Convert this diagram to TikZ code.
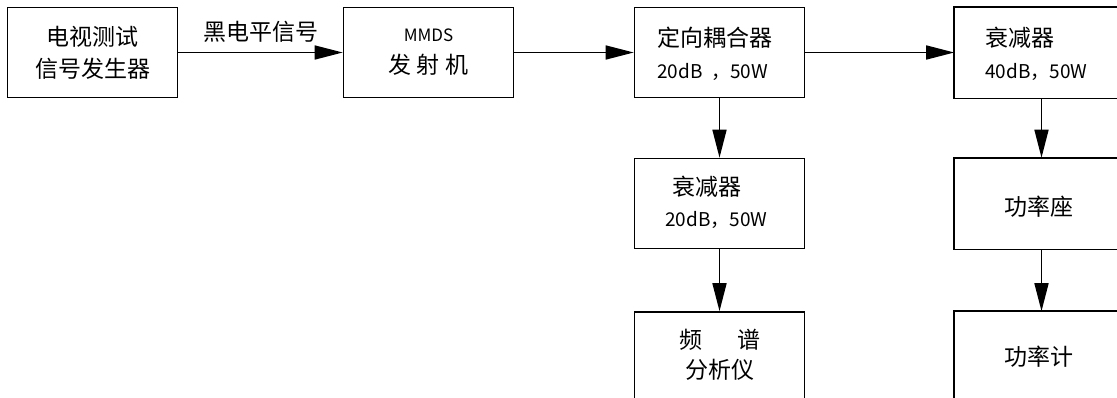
\documentclass[tikz,border=0pt]{standalone}
\usepackage{fontspec}
\setmainfont{Noto Sans CJK SC}
\usetikzlibrary{arrows.meta}
\begin{document}
\begin{tikzpicture}[x=1pt,y=-1pt,
  box/.style={draw, line width=1.6pt, minimum width=170pt, minimum height=90pt, inner sep=0pt, font=\fontsize{23}{32}\selectfont},
  rbox/.style={box, draw=none, minimum width=190pt},
  edge/.style={line width=1.6pt},
  arr/.style={line width=1.6pt, -{Triangle[length=28pt,width=14pt]}},
  big/.style={inner sep=0pt, font=\fontsize{23}{32}\selectfont},
  small/.style={inner sep=0pt, font=\fontsize{19}{32}\selectfont}]
\useasboundingbox (0,0) rectangle (1117,397);
\clip (0,0) rectangle (1117,397);
\node[box, align=center] (gen) at (92.5,52.5) {电视测试\\信号发生器};
\node[box, align=center] (tx) at (428.5,52.5) {{\fontsize{17}{32}\selectfont MMDS}\\发 射 机};
\node[box] (cp) at (719.5,52.5) {};
\node[big, anchor=west] (cpt) at (657,38) {定向耦合器};
\node[small, anchor=west] (cps) at (657,72) {20dB\ \ ，50W};
\node[rbox] (at4) at (1050,52.5) {};
\node[big, anchor=west] (at4t) at (985,38) {衰减器};
\node[small, anchor=west] (at4s) at (985,72) {40dB，50W};
\node[box] (at2) at (719.5,203.5) {};
\node[big, anchor=west] (at2t) at (672,187) {衰减器};
\node[small, anchor=west] (at2s) at (665,220) {20dB，50W};
\node[box] (sa) at (719.5,357) {};
\node[big] (sat) at (720,340) {频\hspace{1.5em}谱};
\node[big] (sas) at (720,370) {分析仪};
\node[rbox] (ps) at (1050,203.5) {};
\node[big] (pst) at (1039,207) {功率座};
\node[rbox] (pm) at (1050,357) {};
\node[big] (pmt) at (1039,357) {功率计};
\foreach \n in {at4,ps,pm}
  \draw[edge] (\n.north east) -- (\n.north west) -- (\n.south west) -- (\n.south east);
\draw[arr] (gen) -- (tx) node[midway, above=6pt, font=\fontsize{23}{32}\selectfont] (lbl) {黑电平信号};
\draw[arr] (tx) -- (cp);
\draw[arr] (cp) -- (at4.west);
\draw[arr] (cp) -- (at2);
\draw[arr] (at2) -- (sa);
\draw[arr] ([xshift=-8.5pt]at4.south) -- ([xshift=-8.5pt]ps.north);
\draw[arr] ([xshift=-8.5pt]ps.south) -- ([xshift=-8.5pt]pm.north);
\end{tikzpicture}
\end{document}
